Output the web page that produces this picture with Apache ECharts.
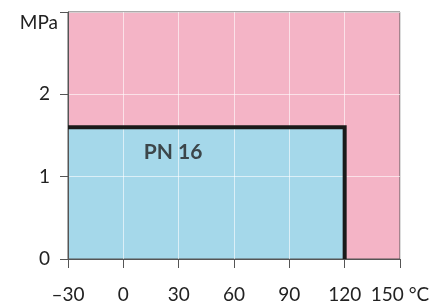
<!DOCTYPE html>
<html>
<head>
<meta charset="utf-8">
<script src="https://cdn.jsdelivr.net/npm/echarts@6/dist/echarts.min.js"></script>
<style>
  html, body { margin: 0; padding: 0; background: #fff; }
  #chart { width: 441px; height: 306px; }
</style>
</head>
<body>
<div id="chart"></div>
<script>
// temperature (°C) / pressure (MPa) data
var rangeTemp = [-30, 150];
var rangePressure = [3, 3];
var pnTemp = [-30, 120, 120];
var pnPressure = [1.6, 1.6, 0];
var pnLabel = 'PN 16';
var pnLabelAt = [27, 1.3];
var xTickStep = 30;
var yTickStep = 1;

function pairs(xs, ys) {
    return xs.map(function (x, i) { return [x, ys[i]]; });
}

var font = 'Lato';
var chart = echarts.init(document.getElementById('chart'));

chart.setOption({
    animation: false,
    grid: {
        left: 68, right: 41, top: 12, bottom: 47,
        show: true, borderColor: '#555', borderWidth: 1,
        backgroundColor: 'transparent', z: 3
    },
    xAxis: {
        type: 'value',
        min: rangeTemp[0], max: rangeTemp[1], interval: xTickStep,
        z: 3,
        axisLine: { onZero: false, lineStyle: { color: '#555', width: 1 } },
        axisTick: { length: 9, lineStyle: { color: '#555' } },
        splitLine: { lineStyle: { color: 'rgba(255,255,255,0.6)', width: 1 } },
        axisLabel: {
            margin: 26, fontSize: 19, fontFamily: font, color: '#222',
            formatter: function (v) {
                var s = String(v).replace('-', '–');
                return v === rangeTemp[1] ? s + ' °C' : s;
            },
            padding: 0
        }
    },
    yAxis: {
        type: 'value',
        min: 0, max: rangePressure[0], interval: yTickStep,
        z: 3,
        name: 'MPa',
        nameLocation: 'end',
        nameGap: -11,
        nameTextStyle: {
            fontSize: 19, fontFamily: font, color: '#222',
            align: 'right', verticalAlign: 'middle', padding: [0, 10, 0, 0]
        },
        axisLine: { show: true, onZero: false, lineStyle: { color: '#555', width: 1 } },
        axisTick: { show: true, length: 8, lineStyle: { color: '#555' } },
        splitLine: { lineStyle: { color: 'rgba(255,255,255,0.6)', width: 1 } },
        axisLabel: {
            margin: 18, fontSize: 19, fontFamily: font, color: '#222',
            formatter: function (v) { return v === rangePressure[0] ? '' : String(v); }
        }
    },
    series: [
        {
            // whole chart area (pink)
            type: 'line', z: 1, silent: true,
            data: pairs(rangeTemp, rangePressure),
            symbol: 'none',
            lineStyle: { width: 0 },
            areaStyle: { color: '#f4b4c6', opacity: 1 }
        },
        {
            // PN 16 operating range (blue)
            type: 'line', z: 2, silent: true,
            data: pairs(pnTemp, pnPressure),
            symbol: 'none',
            lineStyle: { width: 0 },
            areaStyle: { color: '#a5d8ea', opacity: 1 }
        },
        {
            // limit line
            type: 'line', z: 5, silent: true,
            data: pairs(pnTemp, pnPressure),
            symbol: 'none',
            lineStyle: { color: '#1a1a1a', width: 4, join: 'miter', cap: 'butt' }
        },
        {
            type: 'scatter', z: 6, silent: true,
            data: [pnLabelAt],
            symbolSize: 0,
            label: {
                show: true, position: 'inside', formatter: pnLabel,
                fontSize: 21, fontWeight: 'bold', fontFamily: font, color: '#222'
            }
        }
    ]
});
</script>
</body>
</html>
